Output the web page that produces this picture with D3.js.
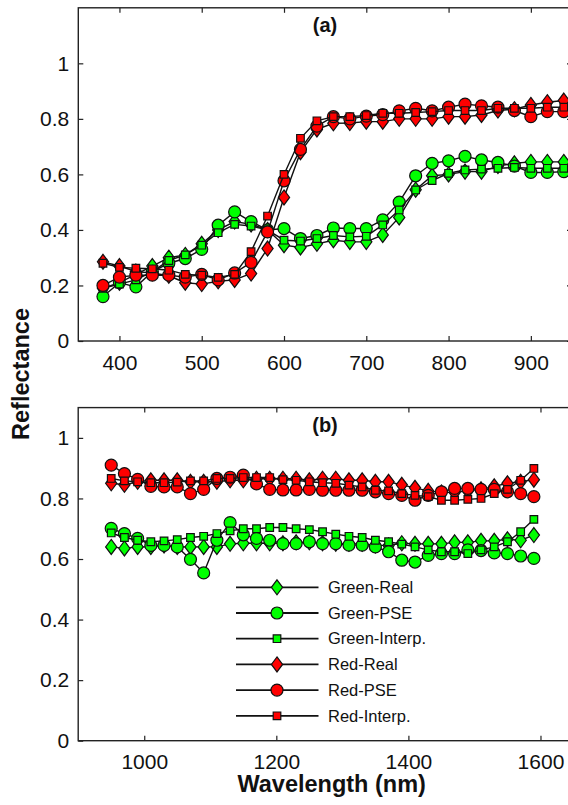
<!DOCTYPE html>
<html>
<head>
<meta charset="utf-8">
<script src="https://cdn.jsdelivr.net/npm/d3@7/dist/d3.min.js"></script>
<style>
  html, body { margin: 0; padding: 0; background: #fff; }
  svg { display: block; font-family: "Liberation Sans", Arial, sans-serif; }
</style>
</head>
<body>
<svg id="chart" width="568" height="805"></svg>
<script>
// ---------- DATA ----------
const wlA = [380,400,420,440,460,480,500,520,540,560,580,600,620,640,660,680,700,720,740,760,780,800,820,840,860,880,900,920,940];
const aGreenReal   = [0.19,0.21,0.24,0.27,0.30,0.31,0.35,0.40,0.43,0.42,0.40,0.345,0.337,0.35,0.363,0.357,0.357,0.382,0.445,0.545,0.595,0.60,0.61,0.61,0.63,0.64,0.645,0.645,0.645];
const aGreenPSE    = [0.16,0.21,0.195,0.25,0.28,0.297,0.33,0.417,0.465,0.43,0.40,0.405,0.369,0.38,0.407,0.405,0.405,0.436,0.50,0.595,0.64,0.649,0.665,0.652,0.643,0.63,0.607,0.607,0.61];
const aGreenInterp = [0.19,0.205,0.22,0.25,0.29,0.31,0.345,0.39,0.42,0.414,0.40,0.363,0.36,0.369,0.38,0.375,0.377,0.418,0.472,0.544,0.578,0.604,0.616,0.619,0.622,0.625,0.622,0.622,0.622];
const aRedReal     = [0.285,0.27,0.25,0.245,0.235,0.21,0.205,0.215,0.22,0.243,0.333,0.517,0.68,0.762,0.784,0.785,0.79,0.79,0.80,0.80,0.80,0.808,0.808,0.814,0.83,0.835,0.85,0.86,0.866];
const aRedPSE      = [0.20,0.23,0.237,0.237,0.237,0.23,0.24,0.22,0.245,0.283,0.393,0.577,0.69,0.774,0.808,0.80,0.81,0.815,0.829,0.838,0.829,0.842,0.853,0.847,0.842,0.83,0.808,0.826,0.826];
const aRedInterp   = [0.28,0.265,0.262,0.26,0.255,0.24,0.237,0.229,0.24,0.322,0.45,0.60,0.73,0.793,0.808,0.808,0.812,0.82,0.82,0.823,0.826,0.83,0.83,0.83,0.838,0.838,0.838,0.842,0.842];

const wlB = [950,970,990,1010,1030,1050,1070,1090,1110,1130,1150,1170,1190,1210,1230,1250,1270,1290,1310,1330,1350,1370,1390,1410,1430,1450,1470,1490,1510,1530,1550,1570,1590];
const bGreenReal   = [0.64,0.635,0.64,0.64,0.645,0.64,0.64,0.64,0.64,0.65,0.652,0.652,0.652,0.652,0.655,0.655,0.652,0.65,0.65,0.65,0.645,0.645,0.652,0.65,0.65,0.65,0.655,0.655,0.66,0.66,0.665,0.662,0.679];
const bGreenPSE    = [0.701,0.684,0.668,0.645,0.645,0.64,0.599,0.554,0.662,0.72,0.68,0.668,0.662,0.651,0.651,0.657,0.651,0.651,0.646,0.646,0.64,0.624,0.596,0.59,0.612,0.618,0.618,0.63,0.628,0.62,0.618,0.61,0.602];
const bGreenInterp = [0.686,0.671,0.662,0.657,0.66,0.664,0.671,0.675,0.684,0.693,0.70,0.70,0.704,0.704,0.70,0.697,0.69,0.682,0.675,0.671,0.662,0.657,0.649,0.64,0.63,0.624,0.624,0.618,0.63,0.64,0.657,0.69,0.731];
const bRedReal     = [0.85,0.845,0.855,0.86,0.86,0.86,0.855,0.855,0.855,0.86,0.86,0.865,0.865,0.865,0.865,0.86,0.865,0.865,0.86,0.86,0.855,0.855,0.845,0.835,0.825,0.82,0.82,0.825,0.83,0.84,0.85,0.855,0.862];
const bRedPSE      = [0.91,0.882,0.863,0.84,0.838,0.838,0.816,0.83,0.866,0.87,0.877,0.848,0.83,0.828,0.828,0.83,0.827,0.827,0.827,0.827,0.822,0.816,0.81,0.794,0.81,0.822,0.833,0.833,0.83,0.83,0.822,0.816,0.806];
const bRedInterp   = [0.866,0.858,0.855,0.852,0.852,0.854,0.858,0.858,0.866,0.866,0.869,0.869,0.869,0.862,0.86,0.855,0.852,0.85,0.844,0.838,0.827,0.825,0.816,0.81,0.806,0.794,0.794,0.797,0.80,0.816,0.83,0.86,0.899];

const seriesNames = ["Green-Real","Green-PSE","Green-Interp.","Red-Real","Red-PSE","Red-Interp."];
const seriesColors = ["#00ff00","#00ff00","#00ff00","#ff0000","#ff0000","#ff0000"];
const seriesShapes = ["diamond","circle","square","diamond","circle","square"];

const xTicksA = [400,500,600,700,800,900];
const xTicksB = [1000,1200,1400,1600];
const yTicks = [0,0.2,0.4,0.6,0.8,1];

// ---------- DRAW ----------
const svg = d3.select("#chart");
svg.append("rect").attr("width",568).attr("height",805).attr("fill","#fff");

function markerPath(shape){
  if (shape === "diamond") return "M0,-7.5L5.6,0L0,7.5L-5.6,0Z";
  if (shape === "square") return "M-3.8,-3.8H3.8V3.8H-3.8Z";
  return d3.symbol().type(d3.symbolCircle).size(Math.PI*6*6)();
}

function panel(opts){
  const {left,right,top,bottom,xDom,yDom,xTicks,wl,data,label,labelY,tickPad} = opts;
  const x = d3.scaleLinear().domain(xDom).range([left,right]);
  const y = d3.scaleLinear().domain(yDom).range([bottom,top]);
  const g = svg.append("g");

  const fmtY = d => d === 0 ? "0" : (d === 1 ? "1" : d3.format(".1f")(d));
  const fmtX = d => String(d);
  const axB = g.append("g").attr("transform",`translate(0,${bottom})`)
    .call(d3.axisBottom(x).tickValues(xTicks).tickSizeInner(-5).tickSizeOuter(0).tickPadding(tickPad).tickFormat(fmtX));
  const axT = g.append("g").attr("transform",`translate(0,${top})`)
    .call(d3.axisTop(x).tickValues(xTicks).tickSizeInner(-5).tickSizeOuter(0).tickFormat(""));
  const axL = g.append("g").attr("transform",`translate(${left},0)`)
    .call(d3.axisLeft(y).tickValues(yTicks).tickSizeInner(-5).tickSizeOuter(0).tickPadding(9).tickFormat(fmtY));
  const axR = g.append("g").attr("transform",`translate(${right},0)`)
    .call(d3.axisRight(y).tickValues(yTicks).tickSizeInner(-5).tickSizeOuter(0).tickFormat(""));
  [axB,axT,axL,axR].forEach(a=>{
    a.select(".domain").remove();
    a.selectAll("line").attr("stroke","#222").attr("stroke-width",1.2);
    a.selectAll("text").attr("font-size","21px").attr("fill","#111")
      .attr("font-family","'Liberation Sans', Arial, sans-serif");
  });
  g.append("rect").attr("x",left).attr("y",top).attr("width",right-left).attr("height",bottom-top)
    .attr("fill","none").attr("stroke","#222").attr("stroke-width",1.4);

  g.append("text").attr("x",325).attr("y",labelY).attr("text-anchor","middle")
    .attr("font-weight","bold").attr("font-size","20px").attr("fill","#111").text(label);

  const line = d3.line().x((d,i)=>x(wl[i])).y(d=>y(d));
  data.forEach((vals,si)=>{
    const sg = g.append("g");
    sg.append("path").attr("d",line(vals)).attr("fill","none").attr("stroke","#111").attr("stroke-width",1.4);
    sg.selectAll("path.m").data(vals).enter().append("path").attr("class","m")
      .attr("d",markerPath(seriesShapes[si]))
      .attr("transform",(d,i)=>`translate(${x(wl[i])},${y(d)})`)
      .attr("fill",seriesColors[si]).attr("stroke","#111").attr("stroke-width",1.2);
  });
  return {x,y,g};
}

panel({left:78.3,right:572,top:7.8,bottom:341,xDom:[350,950],yDom:[0,1.2],xTicks:xTicksA,wl:wlA,
  data:[aGreenReal,aGreenPSE,aGreenInterp,aRedReal,aRedPSE,aRedInterp],label:"(a)",labelY:32,tickPad:14});
panel({left:78.2,right:573.5,top:407.6,bottom:740.7,xDom:[900,1650],yDom:[0,1.1],xTicks:xTicksB,wl:wlB,
  data:[bGreenReal,bGreenPSE,bGreenInterp,bRedReal,bRedPSE,bRedInterp],label:"(b)",labelY:432,tickPad:13});

// legend
const leg = svg.append("g");
seriesNames.forEach((name,i)=>{
  const yy = 587.3 + i*25.7;
  leg.append("line").attr("x1",236).attr("x2",318.5).attr("y1",yy).attr("y2",yy)
    .attr("stroke","#111").attr("stroke-width",1.8);
  leg.append("path").attr("d",markerPath(seriesShapes[i])).attr("transform",`translate(277,${yy})`)
    .attr("fill",seriesColors[i]).attr("stroke","#111").attr("stroke-width",1.2);
  leg.append("text").attr("x",328).attr("y",yy).attr("dy","0.35em").attr("font-size","16.5px")
    .attr("fill","#111").text(name);
});

// axis titles
svg.append("text").attr("transform","translate(29,374) rotate(-90)").attr("text-anchor","middle")
  .attr("font-weight","bold").attr("font-size","23.5px").attr("fill","#111").text("Reflectance");
svg.append("text").attr("x",331.7).attr("y",792).attr("text-anchor","middle")
  .attr("font-weight","bold").attr("font-size","23.5px").attr("fill","#111").text("Wavelength (nm)");
</script>
</body>
</html>
